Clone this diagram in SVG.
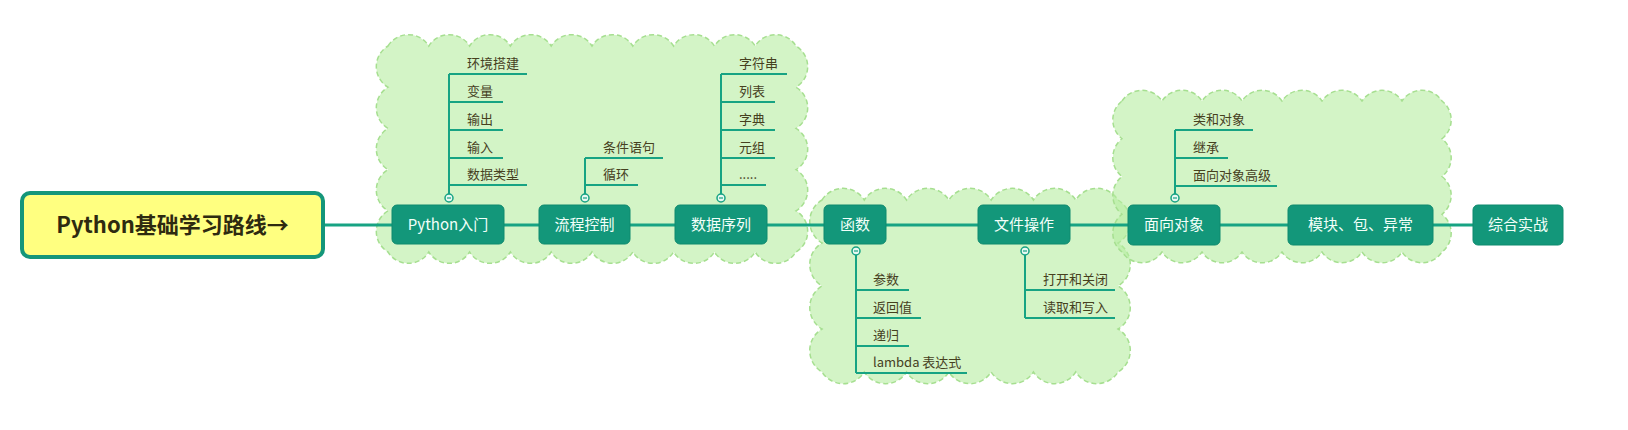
<svg xmlns="http://www.w3.org/2000/svg" width="1628" height="430" viewBox="0 0 1628 430">
<style>
.cloud{fill:#b5eca0;fill-opacity:0.6;stroke:#a6df90;stroke-width:1.5;stroke-dasharray:5 3}
.node rect{fill:#13977a;stroke:#0f8a6e;stroke-width:1}
.node text{fill:#f2fff9;font-family:"Noto Sans CJK SC","Noto Sans",sans-serif;font-size:15px;text-anchor:middle}
.lbl{fill:#46401e;font-family:"Noto Sans CJK SC","Noto Sans",sans-serif;font-size:13px}
.br{stroke:#17a383;stroke-width:2;fill:none}
.main{stroke:#17a383;stroke-width:3;fill:none}
.col circle{fill:#e8f8f2;stroke:#17a383;stroke-width:1.5}
.col path{stroke:#17a383;stroke-width:1.2}
</style>
<rect width="1628" height="430" fill="#ffffff"/>
<g id="clouds">
<path class="cloud" d="M388,46 a24,24 0 0 1 40.8,0 a24,24 0 0 1 40.8,0 a24,24 0 0 1 40.8,0 a24,24 0 0 1 40.8,0 a24,24 0 0 1 40.8,0 a24,24 0 0 1 40.8,0 a24,24 0 0 1 40.8,0 a24,24 0 0 1 40.8,0 a24,24 0 0 1 40.8,0 a24,24 0 0 1 40.8,0 a24,24 0 0 1 0,41.2 a24,24 0 0 1 0,41.2 a24,24 0 0 1 0,41.2 a24,24 0 0 1 0,41.2 a24,24 0 0 1 0,41.2 a24,24 0 0 1 -40.8,0 a24,24 0 0 1 -40.8,0 a24,24 0 0 1 -40.8,0 a24,24 0 0 1 -40.8,0 a24,24 0 0 1 -40.8,0 a24,24 0 0 1 -40.8,0 a24,24 0 0 1 -40.8,0 a24,24 0 0 1 -40.8,0 a24,24 0 0 1 -40.8,0 a24,24 0 0 1 -40.8,0 a24,24 0 0 1 0,-41.2 a24,24 0 0 1 0,-41.2 a24,24 0 0 1 0,-41.2 a24,24 0 0 1 0,-41.2 a24,24 0 0 1 0,-41.2 Z"/>
<path class="cloud" d="M822,200 a25,25 0 0 1 42.29,0 a25,25 0 0 1 42.29,0 a25,25 0 0 1 42.29,0 a25,25 0 0 1 42.29,0 a25,25 0 0 1 42.29,0 a25,25 0 0 1 42.29,0 a25,25 0 0 1 42.29,0 a25,25 0 0 1 0,43 a25,25 0 0 1 0,43 a25,25 0 0 1 0,43 a25,25 0 0 1 0,43 a25,25 0 0 1 -42.29,0 a25,25 0 0 1 -42.29,0 a25,25 0 0 1 -42.29,0 a25,25 0 0 1 -42.29,0 a25,25 0 0 1 -42.29,0 a25,25 0 0 1 -42.29,0 a25,25 0 0 1 -42.29,0 a25,25 0 0 1 0,-43 a25,25 0 0 1 0,-43 a25,25 0 0 1 0,-43 a25,25 0 0 1 0,-43 Z"/>
<path class="cloud" d="M1122,101 a24,24 0 0 1 40,0 a24,24 0 0 1 40,0 a24,24 0 0 1 40,0 a24,24 0 0 1 40,0 a24,24 0 0 1 40,0 a24,24 0 0 1 40,0 a24,24 0 0 1 40,0 a24,24 0 0 1 40,0 a24,24 0 0 1 0,37.75 a24,24 0 0 1 0,37.75 a24,24 0 0 1 0,37.75 a24,24 0 0 1 0,37.75 a24,24 0 0 1 -40,0 a24,24 0 0 1 -40,0 a24,24 0 0 1 -40,0 a24,24 0 0 1 -40,0 a24,24 0 0 1 -40,0 a24,24 0 0 1 -40,0 a24,24 0 0 1 -40,0 a24,24 0 0 1 -40,0 a24,24 0 0 1 0,-37.75 a24,24 0 0 1 0,-37.75 a24,24 0 0 1 0,-37.75 a24,24 0 0 1 0,-37.75 Z"/>
</g>
<g id="connectors">
<path class="main" d="M323,225 H1473"/>
<path class="br" d="M449,198 V74 M449,74 H527 M449,102 H503 M449,130 H503 M449,158 H503 M449,185 H527"/>
<path class="br" d="M585,198 V158 M585,158 H663 M585,185 H638"/>
<path class="br" d="M721,198 V74 M721,74 H787 M721,102 H775 M721,130 H775 M721,158 H775 M721,185 H766"/>
<path class="br" d="M856,251 V373 M856,290 H909 M856,318 H921 M856,346 H909 M856,373 H967"/>
<path class="br" d="M1025,251 V318 M1025,290 H1115 M1025,318 H1115"/>
<path class="br" d="M1175,198 V130 M1175,130 H1253 M1175,158 H1228 M1175,186 H1277"/>
</g>
<g id="root">
<rect x="22" y="193" width="301" height="64" rx="8" fill="#ffff80" stroke="#14967a" stroke-width="4"/>
<text x="172.5" y="233" font-family="'Noto Sans CJK SC','Noto Sans',sans-serif" font-size="22" font-weight="bold" fill="#2e2a10" text-anchor="middle">Python基础学习路线→</text>
</g>
<g id="n-python" class="node"><rect x="392" y="205" width="112" height="39" rx="5"/><text x="448" y="230">Python入门</text></g>
<g id="n-flow" class="node"><rect x="539" y="205" width="91" height="39" rx="5"/><text x="584.5" y="230">流程控制</text></g>
<g id="n-seq" class="node"><rect x="675" y="205" width="92" height="39" rx="5"/><text x="721" y="230">数据序列</text></g>
<g id="n-func" class="node"><rect x="824" y="205" width="62" height="39" rx="5"/><text x="855" y="230">函数</text></g>
<g id="n-file" class="node"><rect x="978" y="205" width="92" height="39" rx="5"/><text x="1024" y="230">文件操作</text></g>
<g id="n-oop" class="node"><rect x="1128" y="205" width="92" height="40" rx="5"/><text x="1174" y="230">面向对象</text></g>
<g id="n-mod" class="node"><rect x="1288" y="205" width="145" height="40" rx="5"/><text x="1360.5" y="230">模块、包、异常</text></g>
<g id="n-final" class="node"><rect x="1473" y="205" width="90" height="40" rx="5"/><text x="1518" y="230">综合实战</text></g>
<g id="labels">
<text class="lbl" x="467" y="68">环境搭建</text>
<text class="lbl" x="467" y="96">变量</text>
<text class="lbl" x="467" y="124">输出</text>
<text class="lbl" x="467" y="152">输入</text>
<text class="lbl" x="467" y="179">数据类型</text>
<text class="lbl" x="603" y="152">条件语句</text>
<text class="lbl" x="603" y="179">循环</text>
<text class="lbl" x="739" y="68">字符串</text>
<text class="lbl" x="739" y="96">列表</text>
<text class="lbl" x="739" y="124">字典</text>
<text class="lbl" x="739" y="152">元组</text>
<text class="lbl" x="739" y="179">.....</text>
<text class="lbl" x="873" y="284">参数</text>
<text class="lbl" x="873" y="312">返回值</text>
<text class="lbl" x="873" y="340">递归</text>
<text class="lbl" x="873" y="367">lambda 表达式</text>
<text class="lbl" x="1043" y="284">打开和关闭</text>
<text class="lbl" x="1043" y="312">读取和写入</text>
<text class="lbl" x="1193" y="124">类和对象</text>
<text class="lbl" x="1193" y="152">继承</text>
<text class="lbl" x="1193" y="180">面向对象高级</text>
</g>
<g id="collapse" class="col">
<circle cx="449" cy="198" r="4"/><path d="M447,198 H451"/>
<circle cx="585" cy="198" r="4"/><path d="M583,198 H587"/>
<circle cx="721" cy="198" r="4"/><path d="M719,198 H723"/>
<circle cx="856" cy="251" r="4"/><path d="M854,251 H858"/>
<circle cx="1025" cy="251" r="4"/><path d="M1023,251 H1027"/>
<circle cx="1175" cy="198" r="4"/><path d="M1173,198 H1177"/>
</g>
</svg>
